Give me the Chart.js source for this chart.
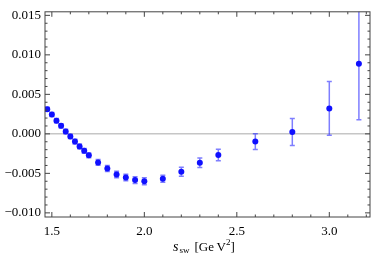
<!DOCTYPE html>
<html>
<head>
<meta charset="utf-8">
<script src="https://cdn.jsdelivr.net/npm/chart.js@4"></script>
<style>
  html, body { margin: 0; padding: 0; background: #fff; }
  #wrap { width: 374px; height: 255px; }
</style>
</head>
<body>
<div id="wrap"><canvas id="chart"></canvas></div>
<script>
const sVals = [1.475, 1.5, 1.525, 1.55, 1.575, 1.6, 1.625, 1.65, 1.675, 1.7,
               1.75, 1.8, 1.85, 1.9, 1.95, 2.0, 2.1, 2.2, 2.3, 2.4, 2.6, 2.8, 3.0, 3.16];
const yVals = [0.00313, 0.00244, 0.00167, 0.00102, 0.00029, -0.00032, -0.00098, -0.00159, -0.00215, -0.00272,
               -0.00361, -0.00439, -0.00514, -0.00552, -0.00585, -0.00601, -0.00568, -0.00479, -0.00366, -0.00268,
               -0.00098, 0.00024, 0.00322, 0.00887];
const yErrs = [0.00025, 0.00025, 0.00026, 0.00027, 0.00028, 0.00028, 0.00029, 0.0003, 0.0003, 0.00031,
               0.00035, 0.00037, 0.0004, 0.0004, 0.00042, 0.00044, 0.00045, 0.00057, 0.0006, 0.00073,
               0.001, 0.0017, 0.0034, 0.0071];
const xTicks = [1.5, 2.0, 2.5, 3.0];
const yTicks = [-0.010, -0.005, 0.000, 0.005, 0.010, 0.015];

const FONT = { family: '"Liberation Serif", serif', size: 13 };

// zero line + error bars under the points, Mathematica-like frame on top
const decor = {
  id: 'decor',
  beforeDatasetsDraw(chart) {
    const { ctx, chartArea: a, scales: { x, y } } = chart;
    ctx.save();
    ctx.beginPath();
    ctx.rect(a.left, a.top, a.right - a.left, a.bottom - a.top);
    ctx.clip();

    const y0 = y.getPixelForValue(0);
    ctx.strokeStyle = '#c6c6c6';
    ctx.lineWidth = 1.5;
    ctx.beginPath();
    ctx.moveTo(a.left, y0);
    ctx.lineTo(a.right, y0);
    ctx.stroke();

    ctx.strokeStyle = 'rgba(40, 40, 255, 0.6)';
    ctx.lineWidth = 1.5;
    sVals.forEach((s, i) => {
      const px = x.getPixelForValue(s);
      const top = y.getPixelForValue(yVals[i] + yErrs[i]);
      const bot = y.getPixelForValue(yVals[i] - yErrs[i]);
      ctx.beginPath();
      ctx.moveTo(px, top);
      ctx.lineTo(px, bot);
      ctx.moveTo(px - 2.5, top);
      ctx.lineTo(px + 2.5, top);
      ctx.moveTo(px - 2.5, bot);
      ctx.lineTo(px + 2.5, bot);
      ctx.stroke();
    });
    ctx.restore();
  },
  afterDraw(chart) {
    const { ctx, chartArea: a, scales: { x, y } } = chart;
    ctx.save();
    ctx.strokeStyle = '#444';
    ctx.lineWidth = 1;
    ctx.strokeRect(a.left, a.top, a.right - a.left, a.bottom - a.top);

    ctx.beginPath();
    for (let k = 14; k <= 33; k++) {
      const v = k / 10;
      const px = x.getPixelForValue(v);
      if (px < a.left || px > a.right) continue;
      const len = k % 5 === 0 ? 5 : 2.5;
      ctx.moveTo(px, a.bottom); ctx.lineTo(px, a.bottom - len);
      ctx.moveTo(px, a.top); ctx.lineTo(px, a.top + len);
    }
    for (let k = -11; k <= 16; k++) {
      const v = k / 1000;
      const py = y.getPixelForValue(v);
      if (py < a.top || py > a.bottom) continue;
      const len = k % 5 === 0 ? 5 : 2.5;
      ctx.moveTo(a.left, py); ctx.lineTo(a.left + len, py);
      ctx.moveTo(a.right, py); ctx.lineTo(a.right - len, py);
    }
    ctx.stroke();

    // axis label: s_sw [GeV^2]
    ctx.fillStyle = '#000';
    ctx.textBaseline = 'alphabetic';
    let cx = 173, base = 251;
    ctx.font = 'italic 14px "Liberation Serif", serif';
    ctx.fillText('s', cx, base);
    cx += ctx.measureText('s').width + 1;
    ctx.font = '9px "Liberation Serif", serif';
    ctx.fillText('sw', cx, base + 2);
    cx += ctx.measureText('sw').width + 5;
    ctx.font = '13px "Liberation Serif", serif';
    ctx.fillText('[Ge\u2009V', cx, base);
    cx += ctx.measureText('[Ge\u2009V').width;
    ctx.font = '9px "Liberation Serif", serif';
    ctx.fillText('2', cx, base - 6);
    cx += ctx.measureText('2').width;
    ctx.font = '13px "Liberation Serif", serif';
    ctx.fillText(']', cx, base);
    ctx.restore();
  }
};

new Chart(document.getElementById('chart'), {
  type: 'scatter',
  data: {
    datasets: [{
      data: sVals.map((s, i) => ({ x: s, y: yVals[i] })),
      backgroundColor: '#1010ff',
      borderColor: '#1010ff',
      pointRadius: 3,
      borderWidth: 0
    }]
  },
  options: {
    responsive: true,
    maintainAspectRatio: false,
    animation: false,
    layout: { padding: { top: 4, right: 4, left: 0, bottom: 0 } },
    plugins: { legend: { display: false }, tooltip: { enabled: false } },
    scales: {
      x: {
        type: 'linear',
        min: 1.463,
        max: 3.22,
        grid: { display: false, drawTicks: false },
        border: { display: false },
        afterBuildTicks: scale => { scale.ticks = xTicks.map(v => ({ value: v })); },
        afterFit: scale => { scale.height = 38; },
        ticks: {
          font: FONT,
          color: '#000',
          padding: 7,
          maxRotation: 0,
          callback: v => v.toFixed(1)
        }
      },
      y: {
        type: 'linear',
        min: -0.010524,
        max: 0.01545,
        grid: { display: false, drawTicks: false },
        border: { display: false },
        afterBuildTicks: scale => { scale.ticks = yTicks.map(v => ({ value: v })); },
        afterFit: scale => { scale.width = 45; },
        ticks: {
          font: FONT,
          color: '#000',
          padding: 4,
          callback: v => (v < 0 ? '\u2212' : '') + Math.abs(v).toFixed(3)
        }
      }
    }
  },
  plugins: [decor]
});
</script>
</body>
</html>
